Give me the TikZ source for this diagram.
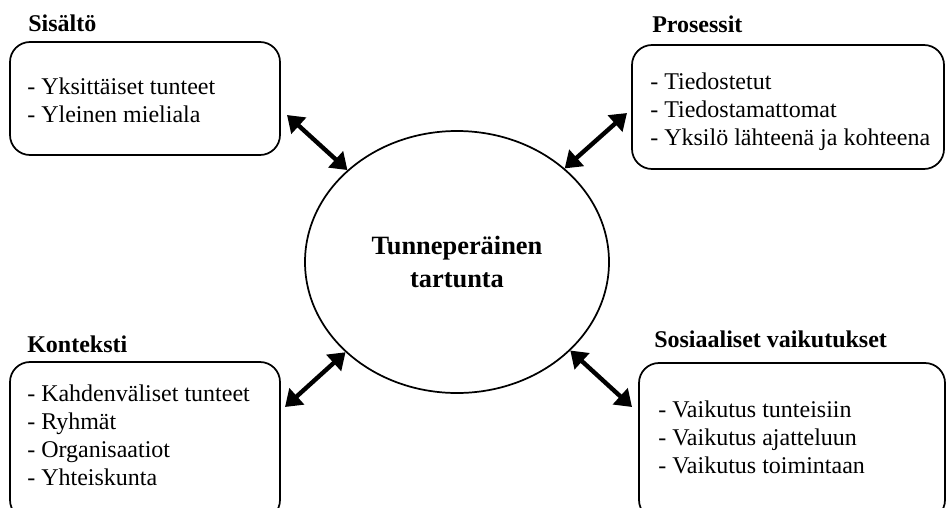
\documentclass[tikz,border=0pt]{standalone}
\usepackage{fontspec}
\setmainfont{Liberation Serif}
\usetikzlibrary{arrows.meta,fit,shapes.geometric}
\begin{document}
\begin{tikzpicture}[x=0.75pt,y=-0.75pt,
  box/.style={draw, line width=1.3pt, rounded corners=15pt, inner sep=0pt},
  ttl/.style={anchor=base west, inner sep=0pt, font=\fontsize{18}{21}\selectfont\bfseries},
  lst/.style={anchor=base west, inner sep=0pt, align=left, font=\fontsize{18}{21}\selectfont},
  dbl/.style={line width=3.3pt, {Triangle[length=12pt,width=16pt]}-{Triangle[length=12pt,width=16pt]}}]
\useasboundingbox (0,0) rectangle (946,507);
\clip (0,0) rectangle (946,507);
% central ellipse
\node[draw, ellipse, line width=1.3pt, minimum width=228pt, minimum height=196.5pt, align=center,
  font=\fontsize{19.8}{24.75}\selectfont\bfseries] (c) at (457,262) {Tunneperäinen\\tartunta};
% boxes
\node[box, fit={(10,42) (280,155)}] (tl) {};
\node[box, fit={(632,45) (944,169)}] (tr) {};
\node[box, fit={(10,362) (280,520)}] (bl) {};
\node[box, fit={(639,363) (945,520)}] (br) {};
% titles
\node[ttl] (tlt) at (28,31) {Sisältö};
\node[ttl] (trt) at (652,32) {Prosessit};
\node[ttl] (blt) at (27,352) {Konteksti};
\node[ttl] (brt) at (654,347) {Sosiaaliset vaikutukset};
% lists (base anchor = baseline of the last line)
\node[lst] (tll) at (27,122) {- Yksittäiset tunteet\\- Yleinen mieliala};
\node[lst] (trl) at (650,145) {- Tiedostetut\\- Tiedostamattomat\\- Yksilö lähteenä ja kohteena};
\node[lst] (bll) at (27,485) {- Kahdenväliset tunteet\\- Ryhmät\\- Organisaatiot\\- Yhteiskunta};
\node[lst] (brl) at (658,473) {- Vaikutus tunteisiin\\- Vaikutus ajatteluun\\- Vaikutus toimintaan};
% arrows
\coordinate (a1) at (287,115);
\coordinate (a2) at (627,113);
\coordinate (a3) at (285,407);
\coordinate (a4) at (632,407);
\draw[dbl] (a1) -- (c.140);
\draw[dbl] (a2) -- (c.41);
\draw[dbl] (a3) -- (c.219);
\draw[dbl] (a4) -- (c.322);
\end{tikzpicture}
\end{document}
